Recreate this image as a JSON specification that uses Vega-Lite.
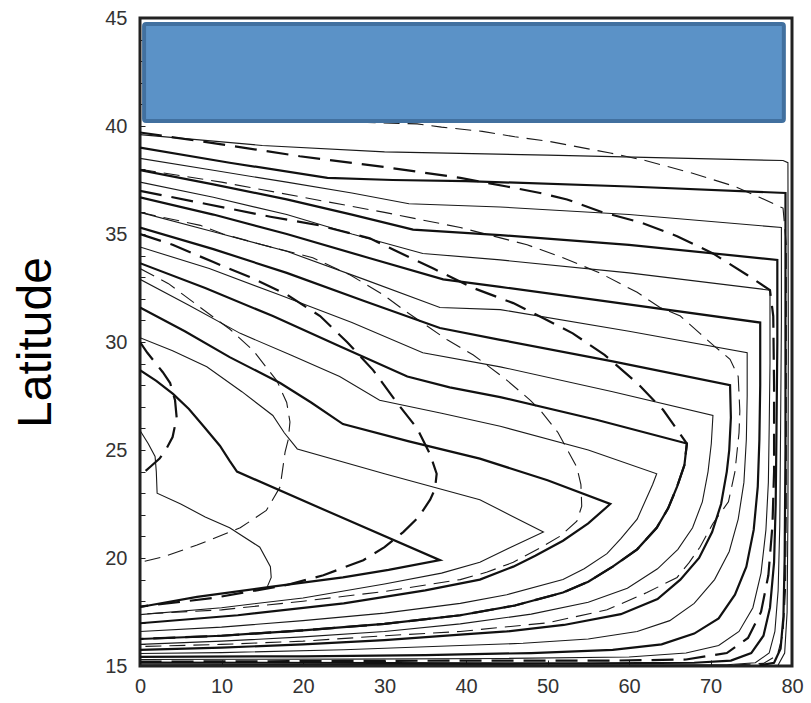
{
  "$schema": "https://vega.github.io/schema/vega-lite/v6.json",
  "width": 652,
  "height": 648,
  "autosize": {"type": "none"},
  "padding": {"left": 140, "top": 18, "right": 19, "bottom": 37},
  "background": "white",
  "config": {"view": {"stroke": "#222", "strokeWidth": 3}},
  "data": {"values": [
    {"i":"S0","s":"B","o":0,"x":0,"y":25.9},{"i":"S0","s":"B","o":1,"x":1.0,"y":25.3},{"i":"S0","s":"B","o":2,"x":1.85,"y":24.7},{"i":"S0","s":"B","o":3,"x":2.0,"y":24.0},{"i":"S0","s":"B","o":4,"x":2.1,"y":23.0},{"i":"S0","s":"B","o":5,"x":5,"y":22.5},{"i":"S0","s":"B","o":6,"x":8,"y":21.9},{"i":"S0","s":"B","o":7,"x":11.0,"y":21.4},{"i":"S0","s":"B","o":8,"x":14.7,"y":20.5},{"i":"S0","s":"B","o":9,"x":16.0,"y":19.6},{"i":"S0","s":"B","o":10,"x":16.1,"y":19.1},{"i":"S0","s":"B","o":11,"x":15.6,"y":18.65},

    {"i":"S1","s":"A","o":0,"x":0,"y":28.7},{"i":"S1","s":"A","o":1,"x":2,"y":28.2},{"i":"S1","s":"A","o":2,"x":4.05,"y":27.6},{"i":"S1","s":"A","o":3,"x":6,"y":26.9},{"i":"S1","s":"A","o":4,"x":7.8,"y":26.1},{"i":"S1","s":"A","o":5,"x":9.8,"y":25.2},{"i":"S1","s":"A","o":6,"x":11.0,"y":24.5},{"i":"S1","s":"A","o":7,"x":11.9,"y":24.0},{"i":"S1","s":"A","o":8,"x":24,"y":22.0},{"i":"S1","s":"A","o":9,"x":36.8,"y":19.9},{"i":"S1","s":"A","o":10,"x":30.5,"y":19.45},{"i":"S1","s":"A","o":11,"x":24.9,"y":19.1},{"i":"S1","s":"A","o":12,"x":16,"y":18.66},{"i":"S1","s":"A","o":13,"x":7,"y":18.2},{"i":"S1","s":"A","o":14,"x":0,"y":17.73},

    {"i":"S2","s":"B","o":0,"x":0,"y":30.2},{"i":"S2","s":"B","o":1,"x":4,"y":29.6},{"i":"S2","s":"B","o":2,"x":8.2,"y":28.85},{"i":"S2","s":"B","o":3,"x":12.5,"y":27.7},{"i":"S2","s":"B","o":4,"x":16.3,"y":26.6},{"i":"S2","s":"B","o":5,"x":17.7,"y":25.8},{"i":"S2","s":"B","o":6,"x":19.3,"y":25.05},{"i":"S2","s":"B","o":7,"x":30,"y":23.9},{"i":"S2","s":"B","o":8,"x":41.7,"y":22.7},{"i":"S2","s":"B","o":9,"x":49.5,"y":21.2},{"i":"S2","s":"B","o":10,"x":45.5,"y":20.5},{"i":"S2","s":"B","o":11,"x":41.7,"y":19.8},{"i":"S2","s":"B","o":12,"x":37,"y":19.3},{"i":"S2","s":"B","o":13,"x":30,"y":18.8},{"i":"S2","s":"B","o":14,"x":20,"y":18.15},{"i":"S2","s":"B","o":15,"x":10,"y":17.7},{"i":"S2","s":"B","o":16,"x":0,"y":17.38},

    {"i":"S3","s":"A","o":0,"x":0,"y":31.6},{"i":"S3","s":"A","o":1,"x":5.5,"y":30.5},{"i":"S3","s":"A","o":2,"x":11,"y":29.3},{"i":"S3","s":"A","o":3,"x":17.2,"y":28.1},{"i":"S3","s":"A","o":4,"x":21,"y":27.2},{"i":"S3","s":"A","o":5,"x":24.9,"y":26.2},{"i":"S3","s":"A","o":6,"x":33,"y":25.4},{"i":"S3","s":"A","o":7,"x":41.7,"y":24.6},{"i":"S3","s":"A","o":8,"x":50,"y":23.6},{"i":"S3","s":"A","o":9,"x":57.7,"y":22.5},{"i":"S3","s":"A","o":10,"x":55,"y":21.6},{"i":"S3","s":"A","o":11,"x":51.9,"y":20.8},{"i":"S3","s":"A","o":12,"x":48.5,"y":20.1},{"i":"S3","s":"A","o":13,"x":45.8,"y":19.6},{"i":"S3","s":"A","o":14,"x":41.7,"y":19.0},{"i":"S3","s":"A","o":15,"x":35,"y":18.5},{"i":"S3","s":"A","o":16,"x":25,"y":17.9},{"i":"S3","s":"A","o":17,"x":12,"y":17.35},{"i":"S3","s":"A","o":18,"x":0,"y":16.98},

    {"i":"S4","s":"B","o":0,"x":0,"y":32.9},{"i":"S4","s":"B","o":1,"x":6,"y":31.7},{"i":"S4","s":"B","o":2,"x":12.3,"y":30.4},{"i":"S4","s":"B","o":3,"x":18.5,"y":29.4},{"i":"S4","s":"B","o":4,"x":24.5,"y":28.4},{"i":"S4","s":"B","o":5,"x":29.4,"y":27.3},{"i":"S4","s":"B","o":6,"x":37,"y":26.7},{"i":"S4","s":"B","o":7,"x":44.2,"y":26.1},{"i":"S4","s":"B","o":8,"x":55,"y":25.0},{"i":"S4","s":"B","o":9,"x":63.4,"y":23.9},{"i":"S4","s":"B","o":10,"x":62.9,"y":23.4},{"i":"S4","s":"B","o":11,"x":61.0,"y":21.8},{"i":"S4","s":"B","o":12,"x":59,"y":20.9},{"i":"S4","s":"B","o":13,"x":57.3,"y":20.2},{"i":"S4","s":"B","o":14,"x":54.5,"y":19.5},{"i":"S4","s":"B","o":15,"x":51.9,"y":19.0},{"i":"S4","s":"B","o":16,"x":45,"y":18.3},{"i":"S4","s":"B","o":17,"x":39.3,"y":17.9},{"i":"S4","s":"B","o":18,"x":30,"y":17.45},{"i":"S4","s":"B","o":19,"x":20,"y":17.1},{"i":"S4","s":"B","o":20,"x":10,"y":16.8},{"i":"S4","s":"B","o":21,"x":0,"y":16.6},

    {"i":"S5","s":"A","o":0,"x":0,"y":33.65},{"i":"S5","s":"A","o":1,"x":8,"y":32.5},{"i":"S5","s":"A","o":2,"x":16.3,"y":31.2},{"i":"S5","s":"A","o":3,"x":24.5,"y":29.8},{"i":"S5","s":"A","o":4,"x":32.8,"y":28.4},{"i":"S5","s":"A","o":5,"x":38,"y":27.9},{"i":"S5","s":"A","o":6,"x":44.2,"y":27.45},{"i":"S5","s":"A","o":7,"x":56,"y":26.4},{"i":"S5","s":"A","o":8,"x":67.1,"y":25.3},{"i":"S5","s":"A","o":9,"x":66.8,"y":24.3},{"i":"S5","s":"A","o":10,"x":65.9,"y":23.3},{"i":"S5","s":"A","o":11,"x":64.8,"y":22.3},{"i":"S5","s":"A","o":12,"x":63.4,"y":21.4},{"i":"S5","s":"A","o":13,"x":61,"y":20.4},{"i":"S5","s":"A","o":14,"x":58,"y":19.6},{"i":"S5","s":"A","o":15,"x":55,"y":18.9},{"i":"S5","s":"A","o":16,"x":51.9,"y":18.4},{"i":"S5","s":"A","o":17,"x":46,"y":17.8},{"i":"S5","s":"A","o":18,"x":39.3,"y":17.35},{"i":"S5","s":"A","o":19,"x":30,"y":16.95},{"i":"S5","s":"A","o":20,"x":20,"y":16.65},{"i":"S5","s":"A","o":21,"x":10,"y":16.4},{"i":"S5","s":"A","o":22,"x":0,"y":16.25},

    {"i":"S6","s":"B","o":0,"x":0,"y":34.4},{"i":"S6","s":"B","o":1,"x":8.5,"y":33.4},{"i":"S6","s":"B","o":2,"x":17,"y":32.2},{"i":"S6","s":"B","o":3,"x":26,"y":30.9},{"i":"S6","s":"B","o":4,"x":34.7,"y":29.5},{"i":"S6","s":"B","o":5,"x":44.2,"y":28.85},{"i":"S6","s":"B","o":6,"x":58,"y":27.7},{"i":"S6","s":"B","o":7,"x":70.3,"y":26.6},{"i":"S6","s":"B","o":8,"x":70.1,"y":25.3},{"i":"S6","s":"B","o":9,"x":69.7,"y":24.0},{"i":"S6","s":"B","o":10,"x":69.0,"y":22.6},{"i":"S6","s":"B","o":11,"x":67.8,"y":21.4},{"i":"S6","s":"B","o":12,"x":66.0,"y":20.4},{"i":"S6","s":"B","o":13,"x":63.5,"y":19.5},{"i":"S6","s":"B","o":14,"x":59.8,"y":18.6},{"i":"S6","s":"B","o":15,"x":55,"y":17.95},{"i":"S6","s":"B","o":16,"x":48,"y":17.4},{"i":"S6","s":"B","o":17,"x":39.3,"y":16.95},{"i":"S6","s":"B","o":18,"x":30,"y":16.6},{"i":"S6","s":"B","o":19,"x":20,"y":16.35},{"i":"S6","s":"B","o":20,"x":10,"y":16.15},{"i":"S6","s":"B","o":21,"x":0,"y":16.0},

    {"i":"S7","s":"A","o":0,"x":0,"y":35.3},{"i":"S7","s":"A","o":1,"x":9,"y":34.3},{"i":"S7","s":"A","o":2,"x":18,"y":33.2},{"i":"S7","s":"A","o":3,"x":27.5,"y":31.9},{"i":"S7","s":"A","o":4,"x":36.8,"y":30.65},{"i":"S7","s":"A","o":5,"x":44.2,"y":30.1},{"i":"S7","s":"A","o":6,"x":58,"y":29.1},{"i":"S7","s":"A","o":7,"x":72.4,"y":28.0},{"i":"S7","s":"A","o":8,"x":72.5,"y":26.5},{"i":"S7","s":"A","o":9,"x":72.3,"y":25.0},{"i":"S7","s":"A","o":10,"x":72.0,"y":24.0},{"i":"S7","s":"A","o":11,"x":71.3,"y":22.5},{"i":"S7","s":"A","o":12,"x":70.2,"y":21.2},{"i":"S7","s":"A","o":13,"x":68.6,"y":20.0},{"i":"S7","s":"A","o":14,"x":66.3,"y":19.0},{"i":"S7","s":"A","o":15,"x":63.5,"y":18.1},{"i":"S7","s":"A","o":16,"x":59,"y":17.4},{"i":"S7","s":"A","o":17,"x":52,"y":16.9},{"i":"S7","s":"A","o":18,"x":45,"y":16.6},{"i":"S7","s":"A","o":19,"x":39.3,"y":16.45},{"i":"S7","s":"A","o":20,"x":30,"y":16.2},{"i":"S7","s":"A","o":21,"x":20,"y":16.0},{"i":"S7","s":"A","o":22,"x":10,"y":15.85},{"i":"S7","s":"A","o":23,"x":0,"y":15.75},

    {"i":"S8","s":"B","o":0,"x":0,"y":36.0},{"i":"S8","s":"B","o":1,"x":9,"y":35.1},{"i":"S8","s":"B","o":2,"x":18,"y":34.2},{"i":"S8","s":"B","o":3,"x":27.5,"y":32.9},{"i":"S8","s":"B","o":4,"x":36.8,"y":31.6},{"i":"S8","s":"B","o":5,"x":44.2,"y":31.5},{"i":"S8","s":"B","o":6,"x":60,"y":30.5},{"i":"S8","s":"B","o":7,"x":74.5,"y":29.5},{"i":"S8","s":"B","o":8,"x":74.5,"y":27.5},{"i":"S8","s":"B","o":9,"x":74.4,"y":25.5},{"i":"S8","s":"B","o":10,"x":74.1,"y":23.5},{"i":"S8","s":"B","o":11,"x":73.4,"y":21.8},{"i":"S8","s":"B","o":12,"x":72.3,"y":20.3},{"i":"S8","s":"B","o":13,"x":70.5,"y":19.0},{"i":"S8","s":"B","o":14,"x":68,"y":17.9},{"i":"S8","s":"B","o":15,"x":65,"y":17.1},{"i":"S8","s":"B","o":16,"x":61,"y":16.6},{"i":"S8","s":"B","o":17,"x":55,"y":16.25},{"i":"S8","s":"B","o":18,"x":47,"y":16.05},{"i":"S8","s":"B","o":19,"x":39.3,"y":15.95},{"i":"S8","s":"B","o":20,"x":25,"y":15.75},{"i":"S8","s":"B","o":21,"x":10,"y":15.62},{"i":"S8","s":"B","o":22,"x":0,"y":15.58},

    {"i":"S9","s":"A","o":0,"x":0,"y":36.7},{"i":"S9","s":"A","o":1,"x":9,"y":35.9},{"i":"S9","s":"A","o":2,"x":18,"y":35.0},{"i":"S9","s":"A","o":3,"x":28,"y":33.9},{"i":"S9","s":"A","o":4,"x":37.2,"y":32.9},{"i":"S9","s":"A","o":5,"x":44.2,"y":32.55},{"i":"S9","s":"A","o":6,"x":56.8,"y":31.9},{"i":"S9","s":"A","o":7,"x":76.1,"y":30.9},{"i":"S9","s":"A","o":8,"x":76.1,"y":28},{"i":"S9","s":"A","o":9,"x":76.0,"y":25.5},{"i":"S9","s":"A","o":10,"x":75.8,"y":23.3},{"i":"S9","s":"A","o":11,"x":75.3,"y":21.3},{"i":"S9","s":"A","o":12,"x":74.4,"y":19.6},{"i":"S9","s":"A","o":13,"x":73.0,"y":18.3},{"i":"S9","s":"A","o":14,"x":71,"y":17.2},{"i":"S9","s":"A","o":15,"x":68,"y":16.5},{"i":"S9","s":"A","o":16,"x":64,"y":16.0},{"i":"S9","s":"A","o":17,"x":58,"y":15.75},{"i":"S9","s":"A","o":18,"x":48,"y":15.6},{"i":"S9","s":"A","o":19,"x":35,"y":15.5},{"i":"S9","s":"A","o":20,"x":20,"y":15.45},{"i":"S9","s":"A","o":21,"x":0,"y":15.42},

    {"i":"S10","s":"B","o":0,"x":0,"y":37.4},{"i":"S10","s":"B","o":1,"x":9,"y":36.7},{"i":"S10","s":"B","o":2,"x":18,"y":35.9},{"i":"S10","s":"B","o":3,"x":26,"y":35.0},{"i":"S10","s":"B","o":4,"x":34.7,"y":34.1},{"i":"S10","s":"B","o":5,"x":44.2,"y":33.8},{"i":"S10","s":"B","o":6,"x":60,"y":33.2},{"i":"S10","s":"B","o":7,"x":77.3,"y":32.4},{"i":"S10","s":"B","o":8,"x":77.3,"y":29},{"i":"S10","s":"B","o":9,"x":77.2,"y":26},{"i":"S10","s":"B","o":10,"x":77.1,"y":23.5},{"i":"S10","s":"B","o":11,"x":76.8,"y":21.3},{"i":"S10","s":"B","o":12,"x":76.2,"y":19.3},{"i":"S10","s":"B","o":13,"x":75.2,"y":17.7},{"i":"S10","s":"B","o":14,"x":73.5,"y":16.6},{"i":"S10","s":"B","o":15,"x":71,"y":15.95},{"i":"S10","s":"B","o":16,"x":67,"y":15.6},{"i":"S10","s":"B","o":17,"x":60,"y":15.42},{"i":"S10","s":"B","o":18,"x":45,"y":15.35},{"i":"S10","s":"B","o":19,"x":25,"y":15.32},{"i":"S10","s":"B","o":20,"x":0,"y":15.3},

    {"i":"S11","s":"A","o":0,"x":0,"y":37.96},{"i":"S11","s":"A","o":1,"x":9,"y":37.3},{"i":"S11","s":"A","o":2,"x":18,"y":36.6},{"i":"S11","s":"A","o":3,"x":26,"y":35.9},{"i":"S11","s":"A","o":4,"x":33.5,"y":35.2},{"i":"S11","s":"A","o":5,"x":44.2,"y":34.95},{"i":"S11","s":"A","o":6,"x":60,"y":34.5},{"i":"S11","s":"A","o":7,"x":78.2,"y":33.8},{"i":"S11","s":"A","o":8,"x":78.2,"y":30},{"i":"S11","s":"A","o":9,"x":78.1,"y":26},{"i":"S11","s":"A","o":10,"x":78.0,"y":22.5},{"i":"S11","s":"A","o":11,"x":77.8,"y":19.8},{"i":"S11","s":"A","o":12,"x":77.3,"y":17.7},{"i":"S11","s":"A","o":13,"x":76.5,"y":16.4},{"i":"S11","s":"A","o":14,"x":75,"y":15.6},{"i":"S11","s":"A","o":15,"x":72.5,"y":15.25},{"i":"S11","s":"A","o":16,"x":68,"y":15.15},{"i":"S11","s":"A","o":17,"x":55,"y":15.12},{"i":"S11","s":"A","o":18,"x":30,"y":15.14},{"i":"S11","s":"A","o":19,"x":0,"y":15.16},

    {"i":"S12","s":"B","o":0,"x":0,"y":38.5},{"i":"S12","s":"B","o":1,"x":9,"y":37.95},{"i":"S12","s":"B","o":2,"x":18,"y":37.4},{"i":"S12","s":"B","o":3,"x":26,"y":36.9},{"i":"S12","s":"B","o":4,"x":33,"y":36.4},{"i":"S12","s":"B","o":5,"x":44.2,"y":36.25},{"i":"S12","s":"B","o":6,"x":60,"y":35.9},{"i":"S12","s":"B","o":7,"x":78.7,"y":35.3},{"i":"S12","s":"B","o":8,"x":78.7,"y":31},{"i":"S12","s":"B","o":9,"x":78.6,"y":26},{"i":"S12","s":"B","o":10,"x":78.5,"y":21.5},{"i":"S12","s":"B","o":11,"x":78.3,"y":18.5},{"i":"S12","s":"B","o":12,"x":77.9,"y":16.6},{"i":"S12","s":"B","o":13,"x":77.2,"y":15.6},{"i":"S12","s":"B","o":14,"x":75.5,"y":15.15},{"i":"S12","s":"B","o":15,"x":72,"y":15.06},{"i":"S12","s":"B","o":16,"x":50,"y":15.06},{"i":"S12","s":"B","o":17,"x":0,"y":15.08},

    {"i":"S13","s":"A","o":0,"x":0,"y":39.0},{"i":"S13","s":"A","o":1,"x":11,"y":38.3},{"i":"S13","s":"A","o":2,"x":23,"y":37.6},{"i":"S13","s":"A","o":3,"x":31,"y":37.5},{"i":"S13","s":"A","o":4,"x":40,"y":37.45},{"i":"S13","s":"A","o":5,"x":60,"y":37.2},{"i":"S13","s":"A","o":6,"x":79.2,"y":36.9},{"i":"S13","s":"A","o":7,"x":79.2,"y":32},{"i":"S13","s":"A","o":8,"x":79.2,"y":25},{"i":"S13","s":"A","o":9,"x":79.1,"y":20},{"i":"S13","s":"A","o":10,"x":78.95,"y":17.3},{"i":"S13","s":"A","o":11,"x":78.6,"y":15.8},{"i":"S13","s":"A","o":12,"x":77.8,"y":15.15},{"i":"S13","s":"A","o":13,"x":76,"y":15.03},

    {"i":"S14","s":"B","o":0,"x":0,"y":39.6},{"i":"S14","s":"B","o":1,"x":15,"y":39.1},{"i":"S14","s":"B","o":2,"x":30,"y":38.8},{"i":"S14","s":"B","o":3,"x":50,"y":38.65},{"i":"S14","s":"B","o":4,"x":78.9,"y":38.4},{"i":"S14","s":"B","o":5,"x":79.5,"y":38.3},{"i":"S14","s":"B","o":6,"x":79.55,"y":30},{"i":"S14","s":"B","o":7,"x":79.5,"y":22},{"i":"S14","s":"B","o":8,"x":79.4,"y":17.5},{"i":"S14","s":"B","o":9,"x":79.1,"y":15.6},{"i":"S14","s":"B","o":10,"x":78.3,"y":15.05},

    {"i":"D1","s":"C","o":0,"x":0,"y":30.0},{"i":"D1","s":"C","o":1,"x":0.9,"y":29.5},{"i":"D1","s":"C","o":2,"x":2.8,"y":28.6},{"i":"D1","s":"C","o":3,"x":3.7,"y":28.1},{"i":"D1","s":"C","o":4,"x":4.3,"y":27.3},{"i":"D1","s":"C","o":5,"x":4.5,"y":26.5},{"i":"D1","s":"C","o":6,"x":4.0,"y":25.6},{"i":"D1","s":"C","o":7,"x":3.3,"y":25.1},{"i":"D1","s":"C","o":8,"x":2.4,"y":24.6},{"i":"D1","s":"C","o":9,"x":1.2,"y":24.2},{"i":"D1","s":"C","o":10,"x":0,"y":23.8},

    {"i":"D2","s":"D","o":0,"x":0,"y":33.4},{"i":"D2","s":"D","o":1,"x":3.5,"y":32.7},{"i":"D2","s":"D","o":2,"x":7.4,"y":31.6},{"i":"D2","s":"D","o":3,"x":11,"y":30.6},{"i":"D2","s":"D","o":4,"x":13.9,"y":29.6},{"i":"D2","s":"D","o":5,"x":16.8,"y":28.2},{"i":"D2","s":"D","o":6,"x":18.0,"y":27.2},{"i":"D2","s":"D","o":7,"x":18.4,"y":26.3},{"i":"D2","s":"D","o":8,"x":18.2,"y":25.5},{"i":"D2","s":"D","o":9,"x":17.8,"y":24.9},{"i":"D2","s":"D","o":10,"x":17.2,"y":23.3},{"i":"D2","s":"D","o":11,"x":15.5,"y":22.2},{"i":"D2","s":"D","o":12,"x":12.3,"y":21.4},{"i":"D2","s":"D","o":13,"x":7,"y":20.6},{"i":"D2","s":"D","o":14,"x":2.8,"y":20.05},{"i":"D2","s":"D","o":15,"x":0,"y":19.8},

    {"i":"D3","s":"C","o":0,"x":0,"y":35.0},{"i":"D3","s":"C","o":1,"x":4,"y":34.5},{"i":"D3","s":"C","o":2,"x":9,"y":33.7},{"i":"D3","s":"C","o":3,"x":13.5,"y":33.0},{"i":"D3","s":"C","o":4,"x":18,"y":32.2},{"i":"D3","s":"C","o":5,"x":22.1,"y":31.2},{"i":"D3","s":"C","o":6,"x":25.4,"y":30.0},{"i":"D3","s":"C","o":7,"x":28.6,"y":28.7},{"i":"D3","s":"C","o":8,"x":31.5,"y":27.2},{"i":"D3","s":"C","o":9,"x":34.0,"y":26.0},{"i":"D3","s":"C","o":10,"x":35.6,"y":24.8},{"i":"D3","s":"C","o":11,"x":36.4,"y":23.9},{"i":"D3","s":"C","o":12,"x":36.2,"y":23.2},{"i":"D3","s":"C","o":13,"x":35.6,"y":22.7},{"i":"D3","s":"C","o":14,"x":34.2,"y":21.9},{"i":"D3","s":"C","o":15,"x":32.3,"y":21.2},{"i":"D3","s":"C","o":16,"x":30,"y":20.5},{"i":"D3","s":"C","o":17,"x":27.4,"y":19.9},{"i":"D3","s":"C","o":18,"x":22.5,"y":19.2},{"i":"D3","s":"C","o":19,"x":18,"y":18.75},{"i":"D3","s":"C","o":20,"x":9,"y":18.15},{"i":"D3","s":"C","o":21,"x":0,"y":17.75},

    {"i":"D4","s":"D","o":0,"x":0,"y":36.0},{"i":"D4","s":"D","o":1,"x":7.4,"y":35.4},{"i":"D4","s":"D","o":2,"x":10.2,"y":35.0},{"i":"D4","s":"D","o":3,"x":15,"y":34.5},{"i":"D4","s":"D","o":4,"x":21.2,"y":33.9},{"i":"D4","s":"D","o":5,"x":25.8,"y":33.1},{"i":"D4","s":"D","o":6,"x":29.8,"y":32.2},{"i":"D4","s":"D","o":7,"x":32.3,"y":31.5},{"i":"D4","s":"D","o":8,"x":37.7,"y":30.1},{"i":"D4","s":"D","o":9,"x":40.9,"y":29.4},{"i":"D4","s":"D","o":10,"x":44.8,"y":28.3},{"i":"D4","s":"D","o":11,"x":47.9,"y":27.3},{"i":"D4","s":"D","o":12,"x":49.1,"y":26.85},{"i":"D4","s":"D","o":13,"x":51.3,"y":25.8},{"i":"D4","s":"D","o":14,"x":52.6,"y":24.9},{"i":"D4","s":"D","o":15,"x":53.6,"y":24.2},{"i":"D4","s":"D","o":16,"x":54.1,"y":23.4},{"i":"D4","s":"D","o":17,"x":54.2,"y":22.4},{"i":"D4","s":"D","o":18,"x":53.6,"y":21.7},{"i":"D4","s":"D","o":19,"x":51.5,"y":21.0},{"i":"D4","s":"D","o":20,"x":49,"y":20.45},{"i":"D4","s":"D","o":21,"x":45.8,"y":19.8},{"i":"D4","s":"D","o":22,"x":42.6,"y":19.35},{"i":"D4","s":"D","o":23,"x":39.3,"y":19.0},{"i":"D4","s":"D","o":24,"x":30,"y":18.45},{"i":"D4","s":"D","o":25,"x":20,"y":18.0},{"i":"D4","s":"D","o":26,"x":10,"y":17.6},{"i":"D4","s":"D","o":27,"x":0,"y":17.4},

    {"i":"D5","s":"C","o":0,"x":0,"y":37.0},{"i":"D5","s":"C","o":1,"x":8,"y":36.4},{"i":"D5","s":"C","o":2,"x":16,"y":35.8},{"i":"D5","s":"C","o":3,"x":22,"y":35.4},{"i":"D5","s":"C","o":4,"x":28.2,"y":34.8},{"i":"D5","s":"C","o":5,"x":31.5,"y":34.2},{"i":"D5","s":"C","o":6,"x":36,"y":33.4},{"i":"D5","s":"C","o":7,"x":40.9,"y":32.5},{"i":"D5","s":"C","o":8,"x":45.8,"y":31.8},{"i":"D5","s":"C","o":9,"x":49.5,"y":31.1},{"i":"D5","s":"C","o":10,"x":53.1,"y":30.4},{"i":"D5","s":"C","o":11,"x":57,"y":29.4},{"i":"D5","s":"C","o":12,"x":61,"y":28.1},{"i":"D5","s":"C","o":13,"x":64.2,"y":26.85},{"i":"D5","s":"C","o":14,"x":65.8,"y":26.0},{"i":"D5","s":"C","o":15,"x":67.1,"y":25.3},{"i":"D5","s":"C","o":16,"x":66.8,"y":24.3},{"i":"D5","s":"C","o":17,"x":65.9,"y":23.3},{"i":"D5","s":"C","o":18,"x":64.8,"y":22.3},{"i":"D5","s":"C","o":19,"x":63.4,"y":21.4},{"i":"D5","s":"C","o":20,"x":61,"y":20.4},{"i":"D5","s":"C","o":21,"x":58,"y":19.6},{"i":"D5","s":"C","o":22,"x":55,"y":18.9},{"i":"D5","s":"C","o":23,"x":51.9,"y":18.4},{"i":"D5","s":"C","o":24,"x":46,"y":17.8},{"i":"D5","s":"C","o":25,"x":39.3,"y":17.35},{"i":"D5","s":"C","o":26,"x":30,"y":16.95},{"i":"D5","s":"C","o":27,"x":20,"y":16.65},{"i":"D5","s":"C","o":28,"x":10,"y":16.4},{"i":"D5","s":"C","o":29,"x":0,"y":16.25},

    {"i":"D6","s":"D","o":0,"x":0,"y":38.0},{"i":"D6","s":"D","o":1,"x":10,"y":37.4},{"i":"D6","s":"D","o":2,"x":20,"y":36.7},{"i":"D6","s":"D","o":3,"x":30,"y":36.0},{"i":"D6","s":"D","o":4,"x":39.3,"y":35.3},{"i":"D6","s":"D","o":5,"x":47.5,"y":34.5},{"i":"D6","s":"D","o":6,"x":51.9,"y":33.9},{"i":"D6","s":"D","o":7,"x":56.4,"y":33.2},{"i":"D6","s":"D","o":8,"x":61,"y":32.3},{"i":"D6","s":"D","o":9,"x":63.8,"y":31.6},{"i":"D6","s":"D","o":10,"x":66.3,"y":31.2},{"i":"D6","s":"D","o":11,"x":68.7,"y":30.4},{"i":"D6","s":"D","o":12,"x":70.5,"y":29.8},{"i":"D6","s":"D","o":13,"x":72.4,"y":29.2},{"i":"D6","s":"D","o":14,"x":73.4,"y":28.4},{"i":"D6","s":"D","o":15,"x":73.6,"y":26.8},{"i":"D6","s":"D","o":16,"x":73.5,"y":25.8},{"i":"D6","s":"D","o":17,"x":73.0,"y":24.0},{"i":"D6","s":"D","o":18,"x":72.2,"y":22.6},{"i":"D6","s":"D","o":19,"x":70.3,"y":21.6},{"i":"D6","s":"D","o":20,"x":68.7,"y":20.5},{"i":"D6","s":"D","o":21,"x":67.4,"y":19.8},{"i":"D6","s":"D","o":22,"x":65.9,"y":19.1},{"i":"D6","s":"D","o":23,"x":62.2,"y":18.4},{"i":"D6","s":"D","o":24,"x":57.3,"y":17.6},{"i":"D6","s":"D","o":25,"x":50,"y":17.0},{"i":"D6","s":"D","o":26,"x":39.3,"y":16.6},{"i":"D6","s":"D","o":27,"x":30,"y":16.4},{"i":"D6","s":"D","o":28,"x":20,"y":16.15},{"i":"D6","s":"D","o":29,"x":10,"y":16.0},{"i":"D6","s":"D","o":30,"x":0,"y":15.9},

    {"i":"D7","s":"C","o":0,"x":0,"y":39.7},{"i":"D7","s":"C","o":1,"x":10,"y":39.15},{"i":"D7","s":"C","o":2,"x":19.6,"y":38.6},{"i":"D7","s":"C","o":3,"x":30,"y":38.1},{"i":"D7","s":"C","o":4,"x":39.3,"y":37.6},{"i":"D7","s":"C","o":5,"x":45,"y":37.2},{"i":"D7","s":"C","o":6,"x":49.1,"y":36.9},{"i":"D7","s":"C","o":7,"x":52.4,"y":36.6},{"i":"D7","s":"C","o":8,"x":56.8,"y":36.0},{"i":"D7","s":"C","o":9,"x":61.3,"y":35.55},{"i":"D7","s":"C","o":10,"x":65.9,"y":34.9},{"i":"D7","s":"C","o":11,"x":70.3,"y":34.1},{"i":"D7","s":"C","o":12,"x":74.5,"y":33.1},{"i":"D7","s":"C","o":13,"x":77.3,"y":32.4},{"i":"D7","s":"C","o":14,"x":77.7,"y":31.2},{"i":"D7","s":"C","o":15,"x":77.8,"y":28},{"i":"D7","s":"C","o":16,"x":77.8,"y":24},{"i":"D7","s":"C","o":17,"x":77.6,"y":21.5},{"i":"D7","s":"C","o":18,"x":77.1,"y":19.2},{"i":"D7","s":"C","o":19,"x":76.2,"y":17.5},{"i":"D7","s":"C","o":20,"x":74.6,"y":16.3},{"i":"D7","s":"C","o":21,"x":72,"y":15.6},{"i":"D7","s":"C","o":22,"x":67,"y":15.3},{"i":"D7","s":"C","o":23,"x":58,"y":15.25},{"i":"D7","s":"C","o":24,"x":40,"y":15.25},{"i":"D7","s":"C","o":25,"x":0,"y":15.2},

    {"i":"D8","s":"D","o":0,"x":24,"y":40.2},{"i":"D8","s":"D","o":1,"x":34,"y":40.1},{"i":"D8","s":"D","o":2,"x":37,"y":39.95},{"i":"D8","s":"D","o":3,"x":42,"y":39.75},{"i":"D8","s":"D","o":4,"x":46,"y":39.5},{"i":"D8","s":"D","o":5,"x":50,"y":39.3},{"i":"D8","s":"D","o":6,"x":57.7,"y":38.75},{"i":"D8","s":"D","o":7,"x":62,"y":38.4},{"i":"D8","s":"D","o":8,"x":67.9,"y":37.8},{"i":"D8","s":"D","o":9,"x":73,"y":37.2},{"i":"D8","s":"D","o":10,"x":76,"y":36.7},{"i":"D8","s":"D","o":11,"x":78.9,"y":36.2},{"i":"D8","s":"D","o":12,"x":79.3,"y":34.5},{"i":"D8","s":"D","o":13,"x":79.3,"y":28},{"i":"D8","s":"D","o":14,"x":79.3,"y":22},{"i":"D8","s":"D","o":15,"x":79.2,"y":18.5},{"i":"D8","s":"D","o":16,"x":78.9,"y":16.5},{"i":"D8","s":"D","o":17,"x":78.2,"y":15.5},{"i":"D8","s":"D","o":18,"x":76.5,"y":15.12},{"i":"D8","s":"D","o":19,"x":72,"y":15.03}
  ]},
  "encoding": {
    "x": {"field": "x", "type": "quantitative",
      "scale": {"domain": [0, 80], "nice": false, "zero": false},
      "axis": {"values": [0, 10, 20, 30, 40, 50, 60, 70, 80], "title": null, "grid": false, "domain": false,
        "tickSize": -6, "tickColor": "#222", "labelFontSize": 20, "labelFont": "Liberation Sans", "labelColor": "#333",
        "labelPadding": 16, "labelFlush": false, "labelOverlap": false}},
    "y": {"field": "y", "type": "quantitative",
      "scale": {"domain": [15, 45], "nice": false, "zero": false},
      "axis": {"values": [15,16,17,18,19,20,21,22,23,24,25,26,27,28,29,30,31,32,33,34,35,36,37,38,39,40,41,42,43,44,45],
        "labelExpr": "datum.value % 5 === 0 ? datum.label : ''",
        "grid": false, "domain": false, "tickSize": -5, "tickColor": "#222",
        "labelFontSize": 20, "labelFont": "Liberation Sans", "labelColor": "#333", "labelPadding": 18,
        "labelFlush": false, "labelOverlap": false,
        "title": "Latitude", "titleFont": "Liberation Sans", "titleFontSize": 48, "titleFontWeight": "normal",
        "titleColor": "#000", "titleAngle": -90, "titleX": -90, "titleY": 324, "titleAlign": "center", "titleBaseline": "alphabetic"}}
  },
  "layer": [
    {"transform": [{"filter": "datum.s === 'B'"}],
     "mark": {"type": "line", "color": "#1a1a1a", "strokeWidth": 1.1, "clip": true},
     "encoding": {"detail": {"field": "i", "type": "nominal"}, "order": {"field": "o", "type": "quantitative"}}},
    {"transform": [{"filter": "datum.s === 'D'"}],
     "mark": {"type": "line", "color": "#1a1a1a", "strokeWidth": 1.1, "strokeDash": [16, 8], "clip": true},
     "encoding": {"detail": {"field": "i", "type": "nominal"}, "order": {"field": "o", "type": "quantitative"}}},
    {"transform": [{"filter": "datum.s === 'A'"}],
     "mark": {"type": "line", "color": "#111", "strokeWidth": 2.2, "clip": true},
     "encoding": {"detail": {"field": "i", "type": "nominal"}, "order": {"field": "o", "type": "quantitative"}}},
    {"transform": [{"filter": "datum.s === 'C'"}],
     "mark": {"type": "line", "color": "#111", "strokeWidth": 2.2, "strokeDash": [22, 10], "clip": true},
     "encoding": {"detail": {"field": "i", "type": "nominal"}, "order": {"field": "o", "type": "quantitative"}}},
    {"data": {"values": [{"x": 0.5, "x2": 79.0, "y": 44.72, "y2": 40.23}]},
     "mark": {"type": "rect", "fill": "#5B92C7", "stroke": "#41709F", "strokeWidth": 4, "cornerRadius": 2},
     "encoding": {"x2": {"field": "x2"}, "y2": {"field": "y2"}}}
  ]
}
